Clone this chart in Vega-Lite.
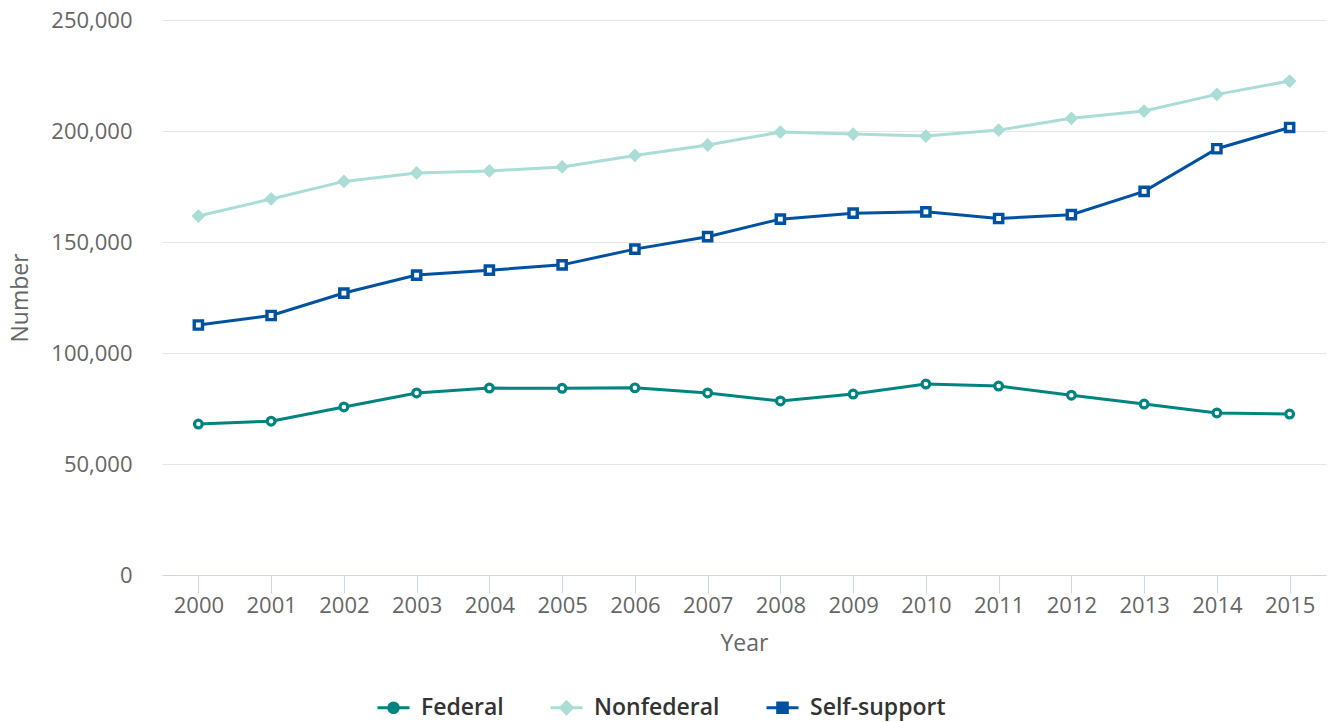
{
  "$schema": "https://vega.github.io/schema/vega-lite/v6.json",
  "width": 1164,
  "height": 555,
  "autosize": {"type": "none"},
  "padding": {"left": 162, "top": 20, "right": 7, "bottom": 147},
  "config": {
    "font": "Open Sans",
    "view": {"stroke": null}
  },
  "data": {
    "values": [
      {"Year": "2000", "Series": "Federal", "Number": 68000},
      {"Year": "2001", "Series": "Federal", "Number": 69300},
      {"Year": "2002", "Series": "Federal", "Number": 75700},
      {"Year": "2003", "Series": "Federal", "Number": 82000},
      {"Year": "2004", "Series": "Federal", "Number": 84200},
      {"Year": "2005", "Series": "Federal", "Number": 84100},
      {"Year": "2006", "Series": "Federal", "Number": 84300},
      {"Year": "2007", "Series": "Federal", "Number": 82000},
      {"Year": "2008", "Series": "Federal", "Number": 78400},
      {"Year": "2009", "Series": "Federal", "Number": 81500},
      {"Year": "2010", "Series": "Federal", "Number": 86000},
      {"Year": "2011", "Series": "Federal", "Number": 85100},
      {"Year": "2012", "Series": "Federal", "Number": 81000},
      {"Year": "2013", "Series": "Federal", "Number": 77000},
      {"Year": "2014", "Series": "Federal", "Number": 73000},
      {"Year": "2015", "Series": "Federal", "Number": 72500},
      {"Year": "2000", "Series": "Nonfederal", "Number": 161700},
      {"Year": "2001", "Series": "Nonfederal", "Number": 169400},
      {"Year": "2002", "Series": "Nonfederal", "Number": 177300},
      {"Year": "2003", "Series": "Nonfederal", "Number": 181100},
      {"Year": "2004", "Series": "Nonfederal", "Number": 182000},
      {"Year": "2005", "Series": "Nonfederal", "Number": 183800},
      {"Year": "2006", "Series": "Nonfederal", "Number": 189000},
      {"Year": "2007", "Series": "Nonfederal", "Number": 193700},
      {"Year": "2008", "Series": "Nonfederal", "Number": 199500},
      {"Year": "2009", "Series": "Nonfederal", "Number": 198600},
      {"Year": "2010", "Series": "Nonfederal", "Number": 197700},
      {"Year": "2011", "Series": "Nonfederal", "Number": 200400},
      {"Year": "2012", "Series": "Nonfederal", "Number": 205700},
      {"Year": "2013", "Series": "Nonfederal", "Number": 209000},
      {"Year": "2014", "Series": "Nonfederal", "Number": 216500},
      {"Year": "2015", "Series": "Nonfederal", "Number": 222500},
      {"Year": "2000", "Series": "Self-support", "Number": 112600},
      {"Year": "2001", "Series": "Self-support", "Number": 116900},
      {"Year": "2002", "Series": "Self-support", "Number": 127000},
      {"Year": "2003", "Series": "Self-support", "Number": 135100},
      {"Year": "2004", "Series": "Self-support", "Number": 137300},
      {"Year": "2005", "Series": "Self-support", "Number": 139700},
      {"Year": "2006", "Series": "Self-support", "Number": 146800},
      {"Year": "2007", "Series": "Self-support", "Number": 152400},
      {"Year": "2008", "Series": "Self-support", "Number": 160300},
      {"Year": "2009", "Series": "Self-support", "Number": 163000},
      {"Year": "2010", "Series": "Self-support", "Number": 163600},
      {"Year": "2011", "Series": "Self-support", "Number": 160600},
      {"Year": "2012", "Series": "Self-support", "Number": 162300},
      {"Year": "2013", "Series": "Self-support", "Number": 172800},
      {"Year": "2014", "Series": "Self-support", "Number": 192000},
      {"Year": "2015", "Series": "Self-support", "Number": 201600}
    ]
  },
  "encoding": {
    "x": {
      "field": "Year",
      "type": "ordinal",
      "scale": {"type": "point", "padding": 0.5},
      "axis": {
        "title": "Year",
        "labelAngle": 0,
        "labelFontSize": 22,
        "labelColor": "#666666",
        "labelPadding": 2,
        "domainColor": "#ccd6eb",
        "domainWidth": 1,
        "tickColor": "#ccd6eb",
        "tickSize": 18,
        "tickWidth": 1,
        "grid": false,
        "titleFontSize": 23,
        "titleFontWeight": "normal",
        "titleColor": "#666666",
        "titlePadding": 16
      }
    },
    "y": {
      "field": "Number",
      "type": "quantitative",
      "scale": {"domain": [0, 250000], "nice": false},
      "axis": {
        "title": "Number",
        "values": [0, 50000, 100000, 150000, 200000, 250000],
        "format": ",.0f",
        "labelFontSize": 22,
        "labelColor": "#666666",
        "labelPadding": 30,
        "ticks": false,
        "tickSize": 0,
        "domain": false,
        "gridColor": "#e6e6e6",
        "gridWidth": 1,
        "titleFontSize": 23,
        "titleFontWeight": "normal",
        "titleColor": "#666666",
        "titlePadding": 18
      }
    },
    "color": {
      "field": "Series",
      "type": "nominal",
      "scale": {
        "domain": ["Federal", "Nonfederal", "Self-support"],
        "range": ["#00847f", "#a9ddd6", "#0052a0"]
      },
      "legend": {
        "title": null,
        "orient": "none",
        "direction": "horizontal",
        "legendX": 214,
        "legendY": 670,
        "symbolSize": 1024,
        "symbolStrokeWidth": 3,
        "labelFontSize": 23,
        "labelFontWeight": 600,
        "labelColor": "#333333",
        "labelOffset": 10,
        "columnPadding": 40,
        "labelLimit": 300,
        "encode": {
          "symbols": {
            "update": {
              "shape": {"signal": "datum.value === 'Federal' ? 'M-1,0L-0.3,0M0.3,0L1,0M-0.3,0A0.3,0.3,0,1,0,0.3,0A0.3,0.3,0,1,0,-0.3,0Z' : datum.value === 'Nonfederal' ? 'M-1,0L-0.36,0M0.36,0L1,0M-0.36,0L0,-0.36L0.36,0L0,0.36Z' : 'M-1,0L-0.3,0M0.3,0L1,0M-0.3,-0.3L0.3,-0.3L0.3,0.3L-0.3,0.3Z'"},
              "fill": {"signal": "datum.value === 'Nonfederal' ? '#a9ddd6' : 'white'"},
              "fillOpacity": {"value": 1},
              "strokeWidth": {"value": 3}
            }
          }
        }
      }
    }
  },
  "layer": [
    {
      "mark": {"type": "line", "strokeWidth": 3}
    },
    {
      "transform": [{"filter": "datum.Series === 'Federal'"}],
      "mark": {"type": "point", "shape": "circle", "filled": false, "fill": "white", "fillOpacity": 1, "strokeWidth": 3.2, "size": 60, "opacity": 1}
    },
    {
      "transform": [{"filter": "datum.Series === 'Nonfederal'"}],
      "mark": {"type": "point", "shape": "diamond", "filled": true, "stroke": "#a9ddd6", "strokeWidth": 2, "size": 120, "opacity": 1}
    },
    {
      "transform": [{"filter": "datum.Series === 'Self-support'"}],
      "mark": {"type": "point", "shape": "square", "filled": false, "fill": "white", "fillOpacity": 1, "strokeWidth": 3.4, "size": 68, "opacity": 1}
    }
  ]
}
